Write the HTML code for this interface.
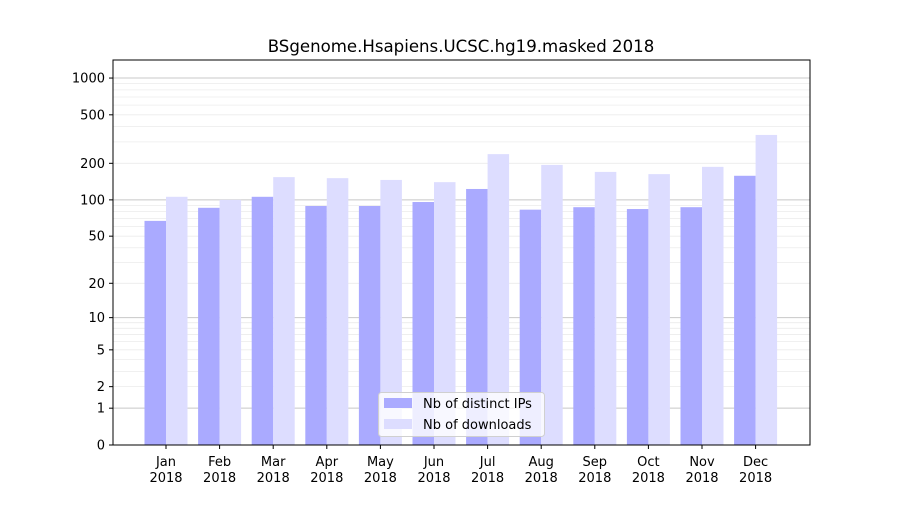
<!DOCTYPE html>
<html><head><meta charset="utf-8"><style>
html,body{margin:0;padding:0;background:#fff;}
svg text{font-family:"DejaVu Sans","Liberation Sans",sans-serif;fill:#000;}
</style></head><body>
<svg id="chart" width="900" height="500" viewBox="0 0 900 500">
<rect x="0" y="0" width="900" height="500" fill="#fff"/>
<text x="461" y="52" font-size="16.6" text-anchor="middle">BSgenome.Hsapiens.UCSC.hg19.masked 2018</text>
<g id="grid"></g><g id="bars"></g><g id="axes"></g>
</svg>
<script>
const months=["Jan","Feb","Mar","Apr","May","Jun","Jul","Aug","Sep","Oct","Nov","Dec"];
const distinctIPs=[67,86,106,89,89,96,123,83,87,84,87,158];
const downloads=[106,100,154,151,146,140,238,194,170,163,187,342];
const yTicks=[0,1,2,5,10,20,50,100,200,500,1000];
const L=113,R=810,T=60,B=445,PPD=122.3;
const NS="http://www.w3.org/2000/svg";
function y(v){return B-Math.log10(1+v)*PPD;}
function xc(i){return 166+i*53.6;}
function mk(tag,attrs,parent){const e=document.createElementNS(NS,tag);for(const k in attrs)e.setAttribute(k,attrs[k]);parent.appendChild(e);return e;}
const grid=document.getElementById('grid'),bars=document.getElementById('bars'),axes=document.getElementById('axes');
for(let d=1;d<=1000;d*=10){for(let m=1;m<10;m++){const v=d*m;if(y(v)<T)break;
const major=(m===1);
const g=mk('line',{x1:L,x2:R,y1:y(v),y2:y(v),stroke:major?'#c8c8c8':'#ececec','stroke-width':major?1:0.8},grid);

}}
const bw=21.5;
months.forEach((m,i)=>{
const a=mk('rect',{x:xc(i)-bw,y:y(distinctIPs[i]),width:bw,height:B-y(distinctIPs[i]),fill:'#aaaaff'},bars);


const b=mk('rect',{x:xc(i),y:y(downloads[i]),width:bw,height:B-y(downloads[i]),fill:'#ddddff'},bars);


mk('line',{x1:xc(i),x2:xc(i),y1:B,y2:B+4,stroke:'#000'},axes);
const t1=mk('text',{x:xc(i),y:B+21,'font-size':13,'text-anchor':'middle'},axes);t1.textContent=m;


const t2=mk('text',{x:xc(i),y:B+37,'font-size':13,'text-anchor':'middle'},axes);t2.textContent='2018';


});
yTicks.forEach(v=>{
mk('line',{x1:L-4,x2:L,y1:y(v),y2:y(v),stroke:'#000'},axes);
const t=mk('text',{x:L-8,y:y(v)+4.5,'font-size':13,'text-anchor':'end'},axes);t.textContent=v;


});
const f=mk('rect',{x:L,y:T,width:R-L,height:B-T,fill:'none',stroke:'#000','stroke-width':1},axes);


const lg=mk('g',{},axes);


mk('rect',{x:378.5,y:392.5,width:166,height:44,rx:3,fill:'#fff','fill-opacity':0.8,stroke:'#d0d0d0'},lg);
mk('rect',{x:384,y:398,width:28,height:10,fill:'#aaaaff'},lg);
mk('rect',{x:384,y:419,width:28,height:10,fill:'#ddddff'},lg);
const l1=mk('text',{x:423,y:408,'font-size':13},lg);l1.textContent='Nb of distinct IPs';


const l2=mk('text',{x:423,y:429,'font-size':13},lg);l2.textContent='Nb of downloads';


</script>
</body></html>
